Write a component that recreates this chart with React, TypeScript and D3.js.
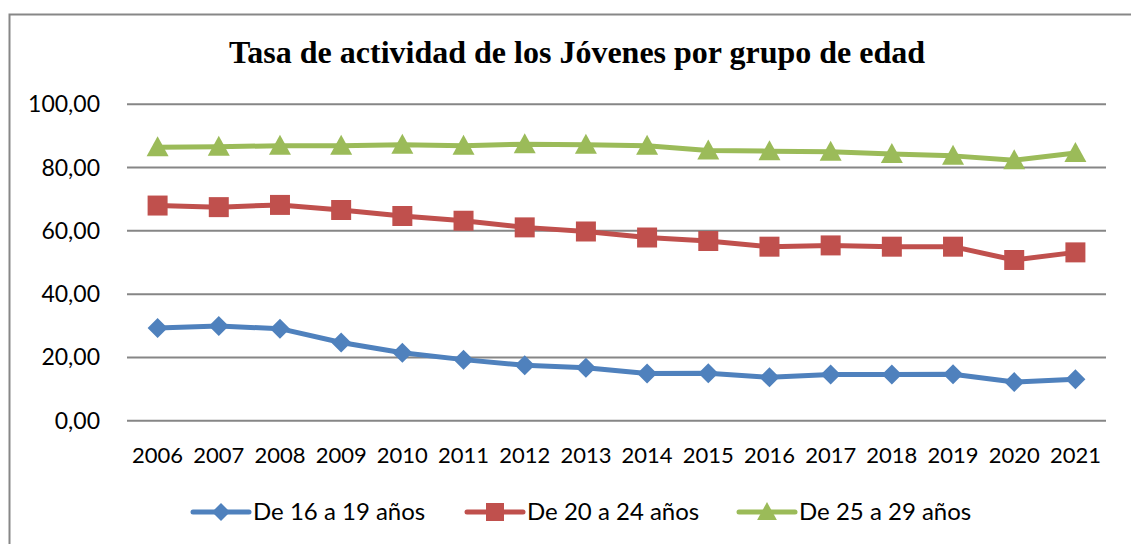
import React, { useEffect, useRef } from 'react';
import * as d3 from 'd3';

const years = ['2006', '2007', '2008', '2009', '2010', '2011', '2012', '2013', '2014', '2015', '2016', '2017', '2018', '2019', '2020', '2021'];
const de16a19 = [29.3, 29.9, 29.1, 24.7, 21.5, 19.3, 17.5, 16.7, 14.9, 15.0, 13.7, 14.6, 14.6, 14.7, 12.2, 13.1];
const de20a24 = [68.0, 67.5, 68.2, 66.6, 64.7, 63.2, 61.1, 59.8, 57.9, 56.8, 55.0, 55.4, 55.0, 55.0, 50.8, 53.2];
const de25a29 = [86.4, 86.6, 86.9, 86.9, 87.2, 86.9, 87.4, 87.2, 86.9, 85.4, 85.2, 85.0, 84.3, 83.7, 82.3, 84.6];
const yTicks = [0, 20, 40, 60, 80, 100];

const seriesList = [
  { name: 'De 16 a 19 años', values: de16a19, color: '#4F81BD', marker: 'diamond' },
  { name: 'De 20 a 24 años', values: de20a24, color: '#C0504D', marker: 'square' },
  { name: 'De 25 a 29 años', values: de25a29, color: '#9BBB59', marker: 'triangle' },
];

const markerPath = (kind: string) => {
  if (kind === 'diamond') return 'M0,-10L10,0L0,10L-10,0Z';
  if (kind === 'square') return 'M-10,-10L10,-10L10,10L-10,10Z';
  return 'M0,-11L11,9L-11,9Z';
};

const App = () => {
  const ref = useRef<SVGSVGElement>(null);

  useEffect(() => {
    const svg = d3.select(ref.current);
    svg.selectAll('*').remove();

    const left = 127;
    const right = 1106;
    const top = 104.3;
    const bottom = 420.7;

    // chart border
    svg
      .append('rect')
      .attr('x', 9.5)
      .attr('y', 14.5)
      .attr('width', 1140)
      .attr('height', 560)
      .attr('fill', '#fff')
      .attr('stroke', '#878787')
      .attr('stroke-width', 2);

    // title
    svg
      .append('text')
      .attr('x', 577)
      .attr('y', 63)
      .attr('text-anchor', 'middle')
      .style('font-family', '"Liberation Serif", "Times New Roman", serif')
      .style('font-weight', 'bold')
      .style('font-size', '32px')
      .text('Tasa de actividad de los Jóvenes por grupo de edad');

    const x = d3.scaleBand<string>().domain(years).range([left, right]);
    const y = d3.scaleLinear().domain([0, 100]).range([bottom, top]);
    const cx = (d: string) => (x(d) as number) + x.bandwidth() / 2;

    // grid lines
    svg
      .append('g')
      .selectAll('line')
      .data(yTicks)
      .enter()
      .append('line')
      .attr('x1', left)
      .attr('x2', right)
      .attr('y1', (d) => y(d))
      .attr('y2', (d) => y(d))
      .attr('stroke', '#868686')
      .attr('stroke-width', 2);

    const font = 'Lato, "Noto Sans", sans-serif';

    // y labels
    svg
      .append('g')
      .selectAll('text')
      .data(yTicks)
      .enter()
      .append('text')
      .attr('x', 100)
      .attr('y', (d) => y(d))
      .attr('dy', '0.35em')
      .attr('text-anchor', 'end')
      .style('font-family', font)
      .style('font-size', '23px')
      .text((d) => d3.format('.2f')(d).replace('.', ','));

    // x labels
    svg
      .append('g')
      .selectAll('text')
      .data(years)
      .enter()
      .append('text')
      .attr('x', (d) => cx(d))
      .attr('y', 463)
      .attr('text-anchor', 'middle')
      .style('font-family', font)
      .style('font-size', '22px')
      .text((d) => d);

    // lines + markers
    seriesList.forEach((s) => {
      const pts = years.map((yr, i) => ({ yr, v: s.values[i] }));
      const line = d3
        .line<{ yr: string; v: number }>()
        .x((d) => cx(d.yr))
        .y((d) => y(d.v));

      svg
        .append('path')
        .datum(pts)
        .attr('fill', 'none')
        .attr('stroke', s.color)
        .attr('stroke-width', 5)
        .attr('stroke-linejoin', 'round')
        .attr('d', line);

      svg
        .append('g')
        .selectAll('path')
        .data(pts)
        .enter()
        .append('path')
        .attr('transform', (d) => 'translate(' + cx(d.yr) + ',' + y(d.v) + ')')
        .attr('d', markerPath(s.marker))
        .attr('fill', s.color);
    });

    // legend
    const legendX = [193, 467, 739];
    const legendY = 512;
    seriesList.forEach((s, i) => {
      const g = svg.append('g').attr('transform', 'translate(' + legendX[i] + ',' + legendY + ')');
      g.append('line')
        .attr('x1', 0)
        .attr('x2', 56)
        .attr('stroke', s.color)
        .attr('stroke-width', 5)
        .attr('stroke-linecap', 'round');
      g.append('path')
        .attr('transform', 'translate(28,0) scale(0.9)')
        .attr('d', markerPath(s.marker))
        .attr('fill', s.color);
      g.append('text')
        .attr('x', 60)
        .attr('dy', '0.35em')
        .style('font-family', font)
        .style('font-size', '24px')
        .text(s.name);
    });
  }, []);

  return (
    <svg
      ref={ref}
      width={1131}
      height={544}
      style={{ position: 'absolute', left: 0, top: 0, display: 'block' }}
    />
  );
};

export default App;
